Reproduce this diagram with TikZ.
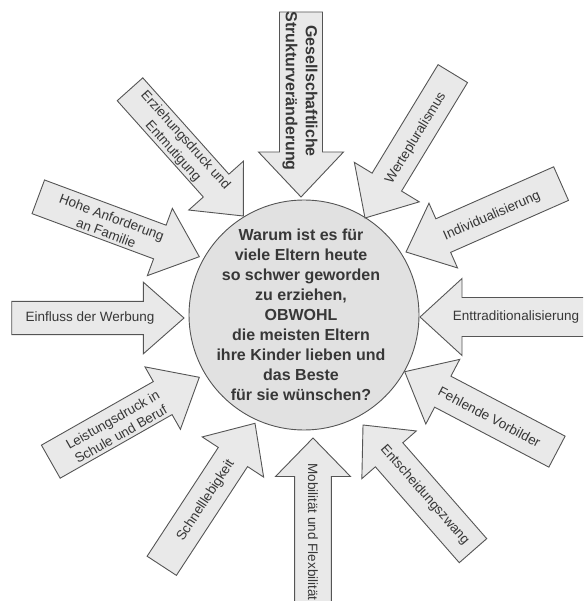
\documentclass[tikz,border=0pt]{standalone}
\usepackage{fontspec}
\setmainfont{Liberation Sans}
\definecolor{pfeilgrau}{RGB}{233,233,233}
\definecolor{kreisgrau}{RGB}{225,225,225}
\definecolor{randgrau}{RGB}{85,85,85}
\definecolor{schrift}{RGB}{55,55,55}
\begin{document}
\begin{tikzpicture}[
    x=1pt, y=-1pt,
    pfeilrand/.style={draw=randgrau, fill=pfeilgrau, line width=0.9pt, line join=miter},
    pfeiltext/.style={text=schrift, align=center, inner sep=0, font=\fontsize{13.5}{16.5}\selectfont},
    fett/.style={font=\fontsize{16}{20}\selectfont\bfseries},
    pics/pfeil/.style n args={4}{code={
      \draw[pfeilrand] (0,0) -- (#4,#3/2) -- (#4,#2/2) -- (#1,#2/2)
        -- (#1,-#2/2) -- (#4,-#2/2) -- (#4,-#3/2) -- cycle;
    }}
  ]
  \useasboundingbox (0,0) rectangle (583,601);
  \clip (0,0) rectangle (583,601);

  % Kreis in der Mitte
  \node[circle, draw=randgrau, fill=kreisgrau, line width=0.9pt, minimum size=230, inner sep=0] (frage) at (304,315) {};
  \node[pfeiltext, fett] (fragetext) at (301,315) {Warum ist es für\\viele Eltern heute\\so schwer geworden\\zu erziehen,\\OBWOHL\\die meisten Eltern\\ihre Kinder lieben und\\das Beste\\für sie wünschen?};

  % Pfeile: Spitze, Richtung zum Ende, Länge, Schaft, Kopf, Kopflänge
  \pic[rotate=90]     at (301,197)   {pfeil={185}{43}{85}{45}};
  \pic[rotate=58.7]   at (365,218)   {pfeil={169}{34.5}{76}{42}};
  \pic[rotate=23.8]   at (406,252)   {pfeil={169.5}{36.7}{70.7}{40.7}};
  \pic[rotate=0]      at (420,317)   {pfeil={175}{39}{77}{42}};
  \pic[rotate=-27.7]  at (404.7,371.7) {pfeil={172}{35}{73}{43}};
  \pic[rotate=-48.8]  at (363,425)   {pfeil={167}{36.5}{72.4}{39.6}};
  \pic[rotate=-90]    at (313,438)   {pfeil={175}{36.7}{75}{38.5}};
  \pic[rotate=-123.2] at (255,423.3) {pfeil={170.3}{35}{73.4}{40.3}};
  \pic[rotate=-150.4] at (199.3,377.3) {pfeil={170.8}{38}{71.8}{42.1}};
  \pic[rotate=180]    at (184,318)   {pfeil={172.3}{33.3}{71.7}{40.7}};
  \pic[rotate=159.6]  at (199.3,256.7) {pfeil={171.8}{35.9}{71.8}{42.1}};
  \pic[rotate=131.8]  at (243.3,216) {pfeil={170}{34.3}{73.4}{40.8}};

  % Beschriftungen
  \node[pfeiltext, fett, rotate=-90] (gesell) at (300,91) {Gesellschaftliche\\Strukturveränderung};
  \node[pfeiltext, rotate=58.7] (werte) at (416,138) {Wertepluralismus};
  \node[pfeiltext, rotate=23.8] (indiv) at (492,216) {Individualisierung};
  \node[pfeiltext] (enttrad) at (516,317) {Enttraditionalisierung};
  \node[pfeiltext, rotate=-27.7] (vorbild) at (489.5,417) {Fehlende Vorbilder};
  \node[pfeiltext, rotate=-48.8] (entscheid) at (424.7,495) {Entscheidungszwang};
  \node[pfeiltext, rotate=-90] (mobil) at (313,532) {Mobilität und Flexbilität};
  \node[pfeiltext, rotate=56.8] (schnell) at (205.8,500.5) {Schnelllebigkeit};
  \node[pfeiltext, rotate=29.6] (leistung) at (116.7,427) {Leistungsdruck in\\Schule und Beruf};
  \node[pfeiltext] (werbung) at (90,318) {Einfluss der Werbung};
  \node[pfeiltext, rotate=-20.4] (anford) at (109,225) {Hohe Anforderung\\an Familie};
  \node[pfeiltext, rotate=-48.2] (erzieh) at (179,146) {Erziehungsdruck und\\Entmutigung};
\end{tikzpicture}
\end{document}
